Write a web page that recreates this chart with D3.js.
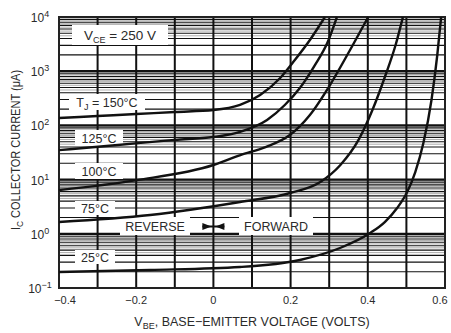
<!DOCTYPE html>
<meta charset="utf-8">
<script src="https://d3js.org/d3.v7.min.js"></script>
<style>
  body { margin: 0; background: #fff; }
  text { font-family: "Liberation Sans", Arial, sans-serif; fill: #2a2a2a; }
</style>
<div id="chart"></div>
<script>
// collector cutoff curves (V_BE in volts, I_C in uA)
var vbe150 = [-0.4, -0.3, -0.2, -0.1, 0, 0.069, 0.121, 0.173, 0.211, 0.25, 0.289];
var ic150  = [137, 149, 162, 177, 192, 238, 364, 750, 1610, 3770, 10000];
var vbe125 = [-0.4, -0.255, -0.1, 0, 0.069, 0.139, 0.185, 0.224, 0.263, 0.295, 0.32];
var ic125  = [35, 43, 54, 61, 76, 126, 238, 490, 1300, 3310, 10000];
var vbe100 = [-0.4, -0.198, 0, 0.07, 0.135, 0.198, 0.25, 0.302, 0.354, 0.401];
var ic100  = [6.4, 9.8, 18.6, 28.4, 39.9, 66.5, 156, 556, 2460, 10000];
var vbe75  = [-0.4, -0.164, 0.069, 0.199, 0.277, 0.329, 0.376, 0.412, 0.446, 0.472, 0.491];
var ic75   = [1.65, 2.22, 3.86, 5.66, 9.04, 18.6, 54, 192, 851, 3040, 10000];
var vbe25  = [-0.4, -0.164, 0.069, 0.224, 0.328, 0.406, 0.444, 0.476, 0.502, 0.523, 0.544, 0.565, 0.58, 0.59];
var ic25   = [0.197, 0.215, 0.244, 0.329, 0.547, 1.035, 1.65, 2.99, 5.9, 13.8, 47.3, 294, 1990, 10000];

var xTicks = [-0.4, -0.2, 0, 0.2, 0.4, 0.6];
var xTickLabels = ["\u22120.4", "\u22120.2", "0", "0.2", "0.4", "0.6"];
var yExponents = [-1, 0, 1, 2, 3, 4];
// grid multipliers inside each decade
var gridSteps = [1, 2, 3, 4, 4.5, 5, 5.5, 6, 6.5, 7, 7.5, 8, 8.5, 9, 9.5];

var W = 451, H = 333;
var margin = {top: 17, right: 6, bottom: 45, left: 59};
var width = W - margin.left - margin.right,
    height = H - margin.top - margin.bottom;

var svg = d3.select("#chart").append("svg")
    .attr("width", W).attr("height", H);
var g = svg.append("g")
    .attr("transform", "translate(" + margin.left + "," + margin.top + ")");

var x = d3.scaleLinear().domain([-0.4, 0.6]).range([0, width]);
var y = d3.scaleLog().domain([0.1, 10000]).range([height, 0]);

// horizontal grid
var hLines = [];
for (var e = -1; e < 4; e++) {
  gridSteps.forEach(function(k) {
    hLines.push({v: k * Math.pow(10, e), k: k});
  });
}
hLines.push({v: 10000, k: 1});
g.selectAll(".hgrid").data(hLines).enter().append("line")
    .attr("x1", 0).attr("x2", width)
    .attr("y1", function(d) { return y(d.v); })
    .attr("y2", function(d) { return y(d.v); })
    .attr("stroke", function(d) { return d.k % 1 == 0 ? "#111" : "#888"; })
    .attr("stroke-width", function(d) { return d.k == 1 ? 2.2 : (d.k % 1 == 0 ? 1.1 : 0.7); });

// vertical grid every 0.1 V
g.selectAll(".vgrid").data(d3.range(-0.4, 0.61, 0.1)).enter().append("line")
    .attr("x1", function(d) { return x(d); }).attr("x2", function(d) { return x(d); })
    .attr("y1", 0).attr("y2", height)
    .attr("stroke", "#111").attr("stroke-width", 2);

g.append("rect").attr("width", width).attr("height", height)
    .attr("fill", "none").attr("stroke", "#222").attr("stroke-width", 2);

// label boxes sit on top of grid (positions in pixels of the plot area)
function label(cx, cy, w, h, txt, sub, rest, fs) {
  g.append("rect").attr("x", cx - w / 2).attr("y", cy - h / 2)
      .attr("width", w).attr("height", h).attr("fill", "#fff");
  var t = g.append("text").attr("x", cx).attr("y", cy + 4.5)
      .attr("text-anchor", "middle").style("font-size", (fs || 12.5) + "px");
  t.append("tspan").text(txt);
  if (sub) {
    t.append("tspan").attr("dy", 3).style("font-size", "9px").text(sub);
    t.append("tspan").attr("dy", -3).text(rest);
  }
}
label(61, 18, 96, 20, "V", "CE", " = 250 V", 13.5);
label(48, 85, 76, 16, "T", "J", " = 150\u00b0C");
label(40, 121, 48, 16, "125\u00b0C");
label(40, 154, 48, 16, "100\u00b0C");
label(36, 191, 40, 14, "75\u00b0C");
label(36, 240, 40, 14, "25\u00b0C");
label(96, 209, 70, 18, "REVERSE");
label(217, 209, 74, 18, "FORWARD");

// reverse/forward marker at V_BE = 0
var my = 209.5, mx = x(0);
g.append("line").attr("x1", mx - 11).attr("x2", mx + 11).attr("y1", my).attr("y2", my)
    .attr("stroke", "#111").attr("stroke-width", 2);
g.append("path").attr("d", "M" + (mx - 11) + "," + (my - 3.5) + "L" + (mx - 2) + "," + my + "L" + (mx - 11) + "," + (my + 3.5) + "Z").attr("fill", "#111");
g.append("path").attr("d", "M" + (mx + 11) + "," + (my - 3.5) + "L" + (mx + 2) + "," + my + "L" + (mx + 11) + "," + (my + 3.5) + "Z").attr("fill", "#111");

// curves
var curves = [[vbe150, ic150], [vbe125, ic125], [vbe100, ic100], [vbe75, ic75], [vbe25, ic25]];
var line = d3.line()
    .x(function(d) { return x(d[0]); })
    .y(function(d) { return y(d[1]); })
    .curve(d3.curveMonotoneX);
g.selectAll(".curve").data(curves).enter().append("path")
    .attr("d", function(c) { return line(d3.zip(c[0], c[1])); })
    .attr("fill", "none").attr("stroke", "#111").attr("stroke-width", 2.4);

// tick labels
g.selectAll(".xl").data(xTicks).enter().append("text")
    .attr("x", function(d) { return x(d); }).attr("y", height + 16)
    .attr("dx", function(d, i) { return i == 0 ? 6 : (i == xTicks.length - 1 ? -5 : 0); })
    .attr("text-anchor", "middle").style("font-size", "11px")
    .text(function(d, i) { return xTickLabels[i]; });

var yl = g.selectAll(".yl").data(yExponents).enter().append("text")
    .attr("x", -19).attr("y", function(d) { return y(Math.pow(10, d)) + 5; })
    .attr("text-anchor", "middle").style("font-size", "12px");
yl.append("tspan").text("10");
yl.append("tspan").attr("dy", -5).style("font-size", "9px")
    .text(function(d) { return d < 0 ? "\u2212" + (-d) : d; });

// axis titles
var xt = svg.append("text").attr("x", 252).attr("y", 326)
    .attr("text-anchor", "middle").style("font-size", "12.5px");
xt.append("tspan").text("V");
xt.append("tspan").attr("dy", 3).style("font-size", "9px").text("BE");
xt.append("tspan").attr("dy", -3).text(", BASE\u2212EMITTER VOLTAGE (VOLTS)");

var yt = svg.append("text").attr("transform", "translate(20,150) rotate(-90) scale(0.92,1)")
    .attr("text-anchor", "middle").style("font-size", "12px");
yt.append("tspan").text("I");
yt.append("tspan").attr("dy", 3).style("font-size", "9px").text("C");
yt.append("tspan").attr("dy", -3).text(" COLLECTOR CURRENT (\u03bcA)");
</script>
